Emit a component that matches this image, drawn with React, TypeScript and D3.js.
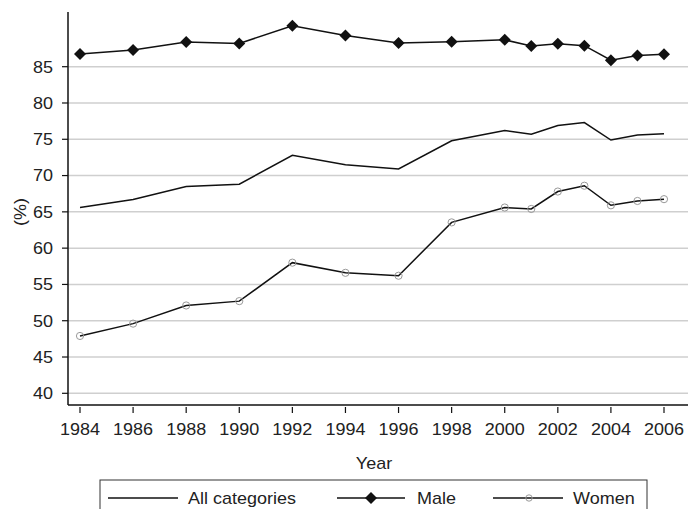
import { line, scaleLinear } from "d3";

const WIDTH = 697;
const HEIGHT = 509;

const years = [1984, 1986, 1988, 1990, 1992, 1994, 1996, 1998, 2000, 2001, 2002, 2003, 2004, 2005, 2006];
const allCategories = [65.6, 66.7, 68.5, 68.8, 72.8, 71.5, 70.9, 74.8, 76.2, 75.7, 76.9, 77.3, 74.9, 75.6, 75.75];
const male = [86.75, 87.3, 88.4, 88.2, 90.65, 89.3, 88.25, 88.45, 88.7, 87.85, 88.15, 87.9, 85.9, 86.55, 86.7];
const women = [47.9, 49.6, 52.1, 52.7, 58.0, 56.6, 56.2, 63.55, 65.6, 65.4, 67.8, 68.6, 65.9, 66.5, 66.75];

const xTicks = [1984, 1986, 1988, 1990, 1992, 1994, 1996, 1998, 2000, 2002, 2004, 2006];
const yTicks = [40, 45, 50, 55, 60, 65, 70, 75, 80, 85];

const FONT = "'Liberation Sans', Arial, Helvetica, sans-serif";

// text is a touch wider than tall in the source, so squash vertically a bit
function Label({ x, y, anchor = "start", rotate = 0, children }: any) {
  return (
    <text
      transform={`translate(${x},${y}) rotate(${rotate}) scale(1,0.9)`}
      dy="0.36em"
      textAnchor={anchor}
      fontSize={18}
      fill="#222"
    >
      {children}
    </text>
  );
}

export default function App() {
  const x = scaleLinear().domain([1984, 2006]).range([80, 664]);
  const y = scaleLinear().domain([40, 85]).range([393.3, 66.7]);
  const plotLeft = 68;
  const plotRight = 688;
  const plotTop = 12;
  const plotBottom = 405;

  const path = (vals: number[]) =>
    line<number>()
      .x((_, i) => x(years[i]))
      .y((v) => y(v))(vals) ?? "";

  const diamond = (cx: number, cy: number, r = 6) =>
    `M${cx},${cy - r}L${cx + r},${cy}L${cx},${cy + r}L${cx - r},${cy}Z`;

  return (
    <svg
      width={WIDTH}
      height={HEIGHT}
      style={{ position: "absolute", left: 0, top: 0, background: "#fff" }}
      fontFamily={FONT}
    >
      {yTicks.map((t) => (
        <line key={t} x1={plotLeft} x2={plotRight} y1={y(t)} y2={y(t)} stroke="#cfcfcf" strokeWidth={1.5} />
      ))}
      <path d={path(allCategories)} fill="none" stroke="#111" strokeWidth={1.5} />
      <path d={path(women)} fill="none" stroke="#111" strokeWidth={1.5} />
      {women.map((v, i) => (
        <circle key={i} cx={x(years[i])} cy={y(v)} r={3.6} fill="none" stroke="#999" strokeWidth={1} />
      ))}
      <path d={path(male)} fill="none" stroke="#111" strokeWidth={1.5} />
      {male.map((v, i) => (
        <path key={i} d={diamond(x(years[i]), y(v))} fill="#111" />
      ))}

      {/* axes */}
      <line x1={plotLeft} x2={plotLeft} y1={plotTop} y2={plotBottom} stroke="#111" strokeWidth={1.5} />
      <line x1={plotLeft} x2={plotRight} y1={plotBottom} y2={plotBottom} stroke="#111" strokeWidth={1.5} />
      {yTicks.map((t) => (
        <g key={t}>
          <line x1={62} x2={plotLeft} y1={y(t)} y2={y(t)} stroke="#111" strokeWidth={1.2} />
          <Label x={53} y={y(t)} anchor="end">{t}</Label>
        </g>
      ))}
      {xTicks.map((t) => (
        <g key={t}>
          <line x1={x(t)} x2={x(t)} y1={407} y2={413} stroke="#111" strokeWidth={1.2} />
          <Label x={x(t)} y={429} anchor="middle">{t}</Label>
        </g>
      ))}
      <Label x={374} y={463} anchor="middle">Year</Label>
      <Label x={20} y={212} anchor="middle" rotate={-90}>(%)</Label>

      {/* legend */}
      <rect x={100} y={480} width={547} height={40} fill="#fff" stroke="#333" strokeWidth={1} />
      <line x1={108} x2={178} y1={498} y2={498} stroke="#111" strokeWidth={1.5} />
      <Label x={188} y={498}>All categories</Label>
      <line x1={337} x2={405} y1={498} y2={498} stroke="#111" strokeWidth={1.5} />
      <path d={diamond(371, 498)} fill="#111" />
      <Label x={417} y={498}>Male</Label>
      <line x1={493} x2={563} y1={498} y2={498} stroke="#111" strokeWidth={1.5} />
      <circle cx={529} cy={498} r={3.2} fill="none" stroke="#999" strokeWidth={1} />
      <Label x={573} y={498}>Women</Label>
    </svg>
  );
}
